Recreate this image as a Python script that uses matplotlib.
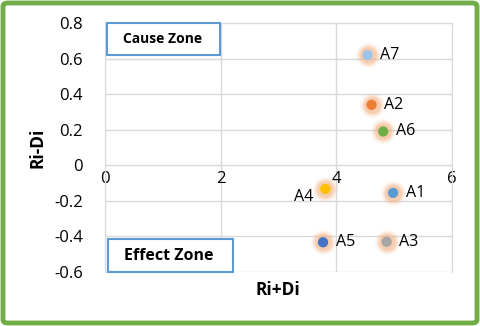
import matplotlib
matplotlib.use("Agg")
import matplotlib.pyplot as plt
from matplotlib.patches import FancyBboxPatch, Rectangle

labels = ["A1", "A2", "A3", "A4", "A5", "A6", "A7"]
ri_plus_di = [4.98, 4.61, 4.87, 3.81, 3.77, 4.81, 4.54]
ri_minus_di = [-0.155, 0.34, -0.43, -0.133, -0.433, 0.19, 0.62]
colors = ["#5B9BD5", "#ED7D31", "#A5A5A5", "#FFC000", "#4472C4", "#70AD47", "#9DC3E6"]
xticks = [0, 2, 4, 6]
yticks = [-0.6, -0.4, -0.2, 0, 0.2, 0.4, 0.6, 0.8]

plt.rcParams['font.family'] = ['Open Sans', 'DejaVu Sans']

fig = plt.figure(figsize=(4.8, 3.26), dpi=100)
ax = fig.add_axes([105/480, 1-272/326, (452-105)/480, (272-23)/326])

ax.set_xlim(0, 6)
ax.set_ylim(-0.6, 0.8)
ax.set_xticks(xticks)
ax.set_yticks(yticks)
ax.set_yticklabels(["-0.6", "-0.4", "-0.2", "0", "0.2", "0.4", "0.6", "0.8"])
ax.grid(True, color="#D9D9D9", linewidth=1)
ax.set_axisbelow(True)
for s in ["top", "right", "left", "bottom"]:
    ax.spines[s].set_color("#D9D9D9")
ax.spines["bottom"].set_position(("data", 0))
ax.tick_params(length=0, labelsize=12, colors="#000000")
ax.tick_params(axis="x", pad=4)
ax.tick_params(axis="y", pad=16)

# glow
for size, alpha in [(330, 0.10), (250, 0.16), (190, 0.25), (140, 0.35)]:
    ax.scatter(ri_plus_di, ri_minus_di, s=size, color="#F4B183", alpha=alpha,
               linewidths=0, zorder=3)
ax.scatter(ri_plus_di, ri_minus_di, s=55, c=colors, linewidths=0, zorder=4)

for lab, x, y in zip(labels, ri_plus_di, ri_minus_di):
    if lab == "A4":
        ax.annotate(lab, (x, y), xytext=(-9, -6), textcoords="offset points",
                    ha="right", va="center", fontsize=11.5, zorder=5)
    else:
        ax.annotate(lab, (x, y), xytext=(9, 0), textcoords="offset points",
                    ha="left", va="center", fontsize=11.5, zorder=5)

ax.set_xlabel("Ri+Di", fontsize=12.5, fontweight="bold", labelpad=0)
ax.xaxis.set_label_coords((278-105)/(452-105), -(281-272)/(272-23))
ax.set_ylabel("Ri-Di", fontsize=12.5, fontweight="bold")
ax.yaxis.set_label_coords(-(105-47)/(452-105), 0.5)

# zone boxes
ax.add_patch(Rectangle((0.03, 0.62), 1.96, 0.18, fc="white", ec="#5B9BD5", lw=1.5,
                       zorder=6, clip_on=False))
ax.text(1.0, 0.71, "Cause Zone", fontsize=10, fontweight="bold", va="center",
        ha="center", zorder=7)
ax.add_patch(Rectangle((0.05, -0.6), 2.17, 0.185, fc="white", ec="#5B9BD5", lw=1.5,
                       zorder=6, clip_on=False))
ax.text(1.1, -0.508, "Effect Zone", fontsize=11.5, fontweight="bold", va="center",
        ha="center", zorder=7)

# green border
fig.patches.append(FancyBboxPatch((3/480, 3/326), 474/480, 320/326,
                                  boxstyle="round,pad=0,rounding_size=0.01",
                                  transform=fig.transFigure, fill=False,
                                  ec="#70AD47", lw=3.5))

fig.savefig("out.png", dpi=100)
